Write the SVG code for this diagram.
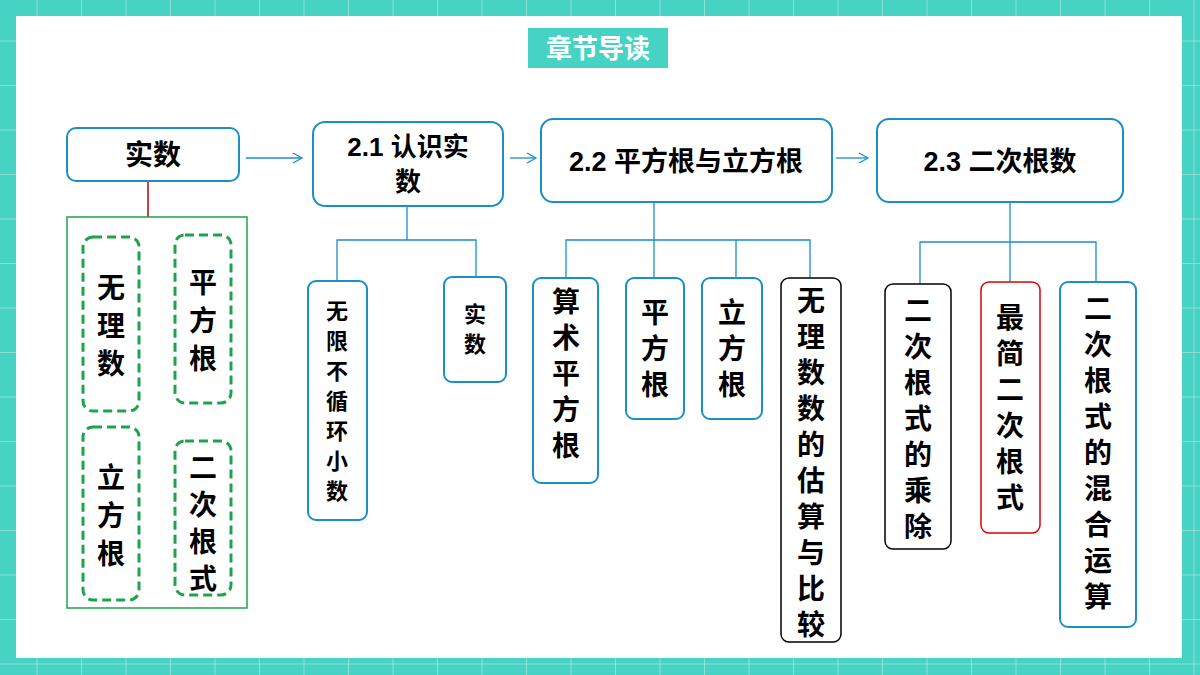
<svg xmlns="http://www.w3.org/2000/svg" width="1200" height="675" viewBox="0 0 1200 675">
<defs>
<pattern id="grid" width="44.5" height="44.5" patternUnits="userSpaceOnUse" x="-7" y="-3">
<rect width="44.5" height="44.5" fill="#46d3c4"/>
<path d="M44.5 0V44.5M0 44.5H44.5" stroke="#9fe6dd" stroke-width="1.5" fill="none"/>
</pattern>
<marker id="open" markerWidth="12" markerHeight="12" refX="10" refY="6" orient="auto" markerUnits="userSpaceOnUse">
<path d="M1 1L10 6L1 11" fill="none" stroke="#1a8fc8" stroke-width="1.3"/>
</marker>
<marker id="blk" markerWidth="10" markerHeight="10" refX="8" refY="5" orient="auto" markerUnits="userSpaceOnUse">
<path d="M0 0L9 5L0 10Z" fill="#000"/>
</marker>
</defs>
<style>
text{font-family:"Liberation Sans","Noto Sans CJK SC",sans-serif;font-weight:bold;fill:#000;text-anchor:middle}
.b{fill:#fff;stroke:#1a8fc8;stroke-width:2}
.d{fill:#fff;stroke:#1fa34a;stroke-width:3;stroke-dasharray:9 5}
.c{stroke:#1a8fc8;stroke-width:1.3;fill:none}
.v{font-size:28px}
</style>
<rect width="1200" height="675" fill="url(#grid)"/>
<rect x="16" y="16" width="1166" height="642" fill="#fff"/>
<rect x="528" y="28" width="140" height="40" fill="#46d3c4"/>
<text x="598" y="58" font-size="26" style="fill:#fff">章节导读</text>

<g id="connectors">
<line class="c" x1="246" y1="158" x2="302" y2="158" marker-end="url(#open)"/>
<line class="c" x1="510" y1="158" x2="536" y2="158" marker-end="url(#open)"/>
<line class="c" x1="836" y1="158" x2="868" y2="158" marker-end="url(#open)"/>
<line x1="148" y1="181" x2="148" y2="217" stroke="#c00000" stroke-width="1.5"/>
<line x1="202" y1="403" x2="202" y2="439" stroke="#000" stroke-width="2" marker-end="url(#blk)"/>
<path class="c" d="M407 206V240M337 281V240H476V277"/>
<path class="c" d="M654 202V240M566 278V240H810V278M654 240V278M736 240V278"/>
<path class="c" d="M1010 202V242M920 284V242H1096V282M1010 242V282"/>
</g>

<g id="n-shishu"><rect class="b" x="67" y="128" width="172" height="53" rx="9"/><text x="153" y="165" font-size="28">实数</text></g>
<g id="n-21"><rect class="b" x="313" y="122" width="190" height="84" rx="12"/><text x="408" y="156" font-size="26">2.1 认识实</text><text x="408" y="191" font-size="26">数</text></g>
<g id="n-22"><rect class="b" x="541" y="119" width="291" height="83" rx="12"/><text x="686" y="171" font-size="27">2.2 平方根与立方根</text></g>
<g id="n-23"><rect class="b" x="877" y="119" width="246" height="83" rx="12"/><text x="1000" y="171" font-size="27">2.3 二次根数</text></g>

<g id="n-group"><rect x="67" y="217" width="180" height="391" fill="#fff" stroke="#1fa34a" stroke-width="1.5"/></g>
<g id="n-wulishu"><rect class="d" x="83" y="237" width="56" height="174" rx="10"/><text class="v" x="111"><tspan x="111" y="298">无</tspan><tspan x="111" y="336">理</tspan><tspan x="111" y="374">数</tspan></text></g>
<g id="n-pingfanggen"><rect class="d" x="175" y="235" width="56" height="168" rx="10"/><text class="v" x="203"><tspan x="203" y="293">平</tspan><tspan x="203" y="331">方</tspan><tspan x="203" y="369">根</tspan></text></g>
<g id="n-lifanggen"><rect class="d" x="83" y="427" width="56" height="173" rx="10"/><text class="v" x="111"><tspan x="111" y="488">立</tspan><tspan x="111" y="526">方</tspan><tspan x="111" y="564">根</tspan></text></g>
<g id="n-erci"><rect class="d" x="175" y="441" width="56" height="154" rx="10"/><text class="v" x="203"><tspan x="203" y="478">二</tspan><tspan x="203" y="515">次</tspan><tspan x="203" y="552">根</tspan><tspan x="203" y="589">式</tspan></text></g>

<g id="n-wuxian"><rect class="b" x="308" y="281" width="59" height="239" rx="8"/><text font-size="22"><tspan x="337" y="319">无</tspan><tspan x="337" y="349">限</tspan><tspan x="337" y="379">不</tspan><tspan x="337" y="409">循</tspan><tspan x="337" y="439">环</tspan><tspan x="337" y="469">小</tspan><tspan x="337" y="499">数</tspan></text></g>
<g id="n-shishu2"><rect class="b" x="444" y="277" width="62" height="105" rx="8"/><text font-size="22"><tspan x="475" y="322">实</tspan><tspan x="475" y="352">数</tspan></text></g>

<g id="n-suanshu"><rect class="b" x="533" y="278" width="65" height="205" rx="8"/><text class="v"><tspan x="566" y="312">算</tspan><tspan x="566" y="348">术</tspan><tspan x="566" y="384">平</tspan><tspan x="566" y="420">方</tspan><tspan x="566" y="456">根</tspan></text></g>
<g id="n-pfg"><rect class="b" x="626" y="278" width="58" height="141" rx="8"/><text class="v"><tspan x="655" y="323">平</tspan><tspan x="655" y="359">方</tspan><tspan x="655" y="395">根</tspan></text></g>
<g id="n-lfg"><rect class="b" x="702" y="278" width="60" height="141" rx="8"/><text class="v"><tspan x="732" y="323">立</tspan><tspan x="732" y="359">方</tspan><tspan x="732" y="395">根</tspan></text></g>
<g id="n-gusuan"><rect x="781" y="278" width="60" height="364" rx="8" fill="#fff" stroke="#000" stroke-width="1.5"/><text class="v"><tspan x="811" y="311">无</tspan><tspan x="811" y="347">理</tspan><tspan x="811" y="383">数</tspan><tspan x="811" y="419">数</tspan><tspan x="811" y="455">的</tspan><tspan x="811" y="491">估</tspan><tspan x="811" y="527">算</tspan><tspan x="811" y="563">与</tspan><tspan x="811" y="599">比</tspan><tspan x="811" y="635">较</tspan></text></g>

<g id="n-chengchu"><rect x="885" y="284" width="66" height="265" rx="8" fill="#fff" stroke="#000" stroke-width="1.5"/><text class="v"><tspan x="918" y="321">二</tspan><tspan x="918" y="357">次</tspan><tspan x="918" y="393">根</tspan><tspan x="918" y="429">式</tspan><tspan x="918" y="465">的</tspan><tspan x="918" y="501">乘</tspan><tspan x="918" y="537">除</tspan></text></g>
<g id="n-zuijian"><rect x="981" y="282" width="59" height="251" rx="8" fill="#fff" stroke="#e00000" stroke-width="1.5"/><text class="v"><tspan x="1010" y="328">最</tspan><tspan x="1010" y="364">简</tspan><tspan x="1010" y="400">二</tspan><tspan x="1010" y="436">次</tspan><tspan x="1010" y="472">根</tspan><tspan x="1010" y="508">式</tspan></text></g>
<g id="n-hunhe"><rect class="b" x="1060" y="282" width="76" height="345" rx="8"/><text class="v"><tspan x="1098" y="319">二</tspan><tspan x="1098" y="355">次</tspan><tspan x="1098" y="391">根</tspan><tspan x="1098" y="427">式</tspan><tspan x="1098" y="463">的</tspan><tspan x="1098" y="499">混</tspan><tspan x="1098" y="535">合</tspan><tspan x="1098" y="571">运</tspan><tspan x="1098" y="607">算</tspan></text></g>
</svg>
